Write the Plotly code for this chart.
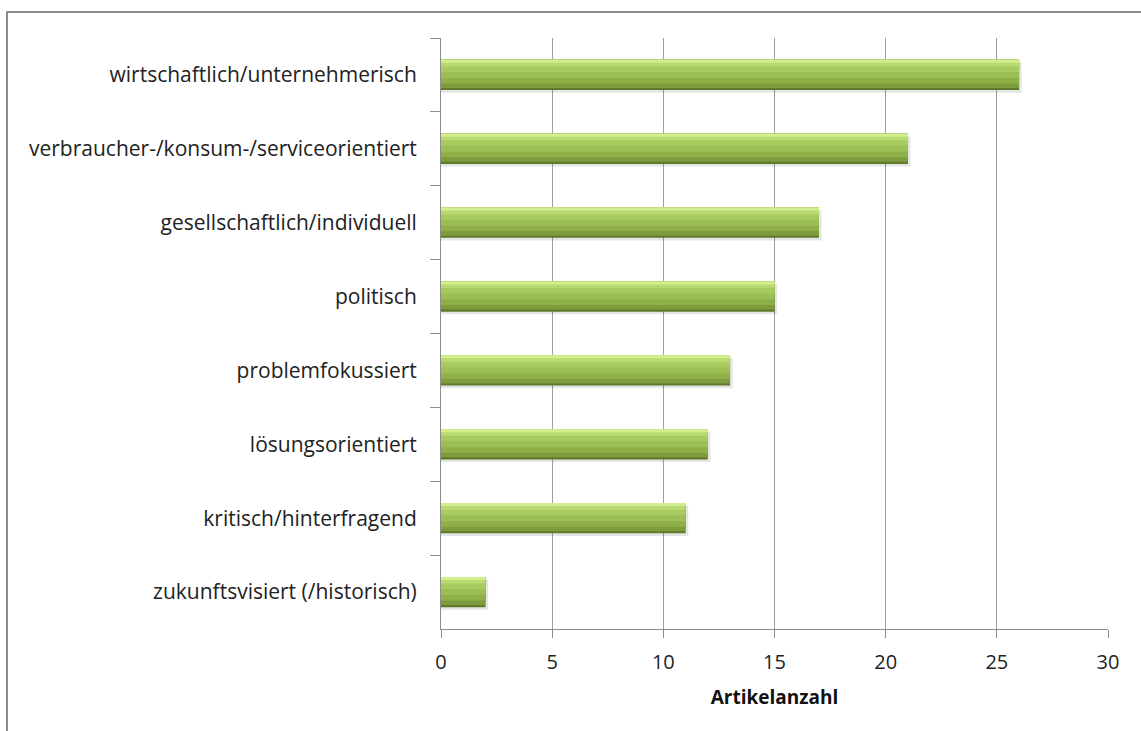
import plotly.graph_objects as go

categories = [
    "wirtschaftlich/unternehmerisch",
    "verbraucher-/konsum-/serviceorientiert",
    "gesellschaftlich/individuell",
    "politisch",
    "problemfokussiert",
    "lösungsorientiert",
    "kritisch/hinterfragend",
    "zukunftsvisiert (/historisch)",
]
values = [26, 21, 17, 15, 13, 12, 11, 2]
x_ticks = [0, 5, 10, 15, 20, 25, 30]

FONT = "Open Sans"
W = 0.41
fig = go.Figure()
# shadow
fig.add_trace(go.Bar(y=categories, x=[v + 0.12 for v in values], orientation="h",
                     width=W, offset=-W / 2 + 0.035, marker=dict(color="rgba(0,0,0,0.10)", line=dict(width=0)),
                     hoverinfo="skip", showlegend=False))
# gradient bands (top -> bottom)
bands = [
    (1.00, "#5f7a2a"),
    (0.93, "#7d9c3d"),
    (0.78, "#8fb049"),
    (0.60, "#9bbf55"),
    (0.40, "#a8cb60"),
    (0.22, "#b9da72"),
    (0.10, "#d2ee8e"),
]
for frac, col in bands:
    fig.add_trace(go.Bar(y=categories, x=values, orientation="h", width=W * frac, offset=-W / 2,
                         marker=dict(color=col, line=dict(width=0)), hoverinfo="skip", showlegend=False))

fig.update_layout(
    width=1141, height=731,
    margin=dict(l=441, r=33, t=38, b=102),
    paper_bgcolor="white", plot_bgcolor="white",
    barmode="overlay",
    font=dict(family=FONT, size=20, color="#222222"),
    xaxis=dict(range=[0, 30], tickvals=x_ticks, ticktext=[str(t) for t in x_ticks],
               showgrid=True, gridcolor="#9e9e9e", gridwidth=1,
               showline=True, linecolor="#8c8c8c", linewidth=1,
               ticks="outside", ticklen=8, tickcolor="#8c8c8c", ticklabelstandoff=7,
               zeroline=False, tickfont=dict(size=20, family=FONT, color="#222222"),
               title=dict(text="<b>Artikelanzahl</b>", font=dict(size=19, family=FONT, color="#111111"),
                          standoff=16)),
    yaxis=dict(autorange="reversed", type="category",
               showline=True, linecolor="#8c8c8c", linewidth=1,
               ticks="outside", ticklen=10, tickcolor="#8c8c8c", tickson="boundaries",
               ticklabelstandoff=19,
               showgrid=False, tickfont=dict(size=21, family=FONT, color="#222222")),
    shapes=[dict(type="rect", xref="paper", yref="paper",
                 x0=(7 - 441) / 667, x1=(1150 - 441) / 667,
                 y0=(629 - 740) / 591, y1=(629 - 12) / 591,
                 line=dict(color="#8c8c8c", width=2), fillcolor="rgba(0,0,0,0)", layer="below")],
)
fig.write_html("out.html")
